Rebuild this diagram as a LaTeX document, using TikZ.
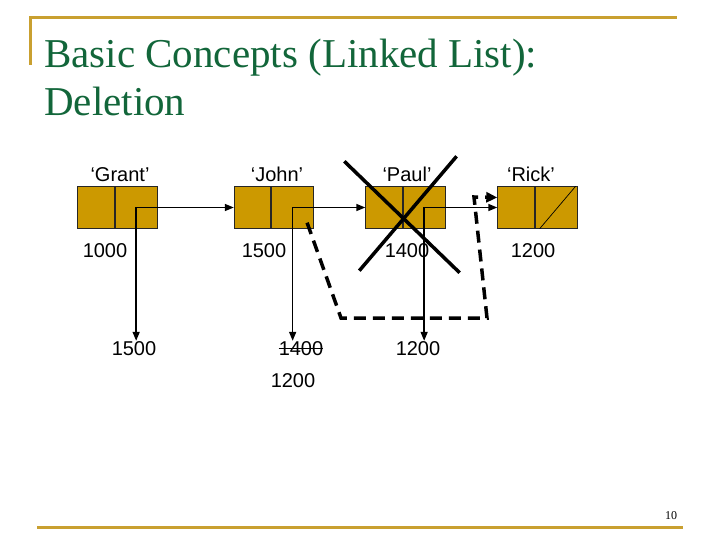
\documentclass[tikz,border=0pt]{standalone}
\usepackage{fontspec}
\setmainfont{Liberation Serif}
\setsansfont{Liberation Sans}
\usepackage{xcolor}
\definecolor{slidegreen}{RGB}{18, 102, 58}
\definecolor{slidegold}{RGB}{201, 160, 48}
\definecolor{boxgold}{RGB}{204, 153,  0}
\usepackage{tikz}
\usetikzlibrary{
  arrows.meta, positioning, calc
}
\tikzset{
  datapart/.style={draw=black!85, fill=boxgold, line width=0.9pt,
    inner sep=0pt, minimum width=36.5pt, minimum height=41.5pt},
  linkpart/.style={draw=black!85, fill=boxgold, line width=0.9pt,
    inner sep=0pt, minimum width=42pt, minimum height=41.5pt},
  titletext/.style={anchor=base west, inner sep=0pt, text=slidegreen,
    font=\fontsize{41}{48}\selectfont},
  namelabel/.style={anchor=base, inner sep=0pt,
    font=\sffamily\fontsize{20}{24}\selectfont},
  addrlabel/.style={anchor=base, inner sep=0pt,
    font=\sffamily\fontsize{20}{24}\selectfont},
  ptrarrow/.style={-{Triangle[length=9pt, width=7pt]}, line width=1.5pt},
  relinkarrow/.style={-{Triangle[length=11pt, width=10pt]}, line width=3.5pt,
    dash pattern=on 12pt off 7pt},
  crossline/.style={line width=3.5pt},
  slideline/.style={draw=slidegold, line width=3pt}
}

\begin{document}
\begin{tikzpicture}[x=1pt, y=-1pt]

  \useasboundingbox (0,0) rectangle (720,540);

  \draw[slideline] (30,65) -- (30,18) -- (677,18);
  \draw[slideline] (37,527) -- (683,527);

  \node[titletext] (titleA) at (44,68) {Basic Concepts (Linked List):};
  \node[titletext] (titleB) at (44,116) {Deletion};

  \node[datapart] (grantD) at (96,207.5) {};
  \node[linkpart, right=0pt of grantD] (grantL) {};
  \node[datapart] (johnD) at (252.5,207.5) {};
  \node[linkpart, right=0pt of johnD] (johnL) {};
  \node[datapart] (paulD) at (384,207.5) {};
  \node[linkpart, right=0pt of paulD] (paulL) {};
  \node[datapart] (rickD) at (516,207.5) {};
  \node[linkpart, right=0pt of rickD] (rickL) {};

  \node[namelabel] (grantName) at (120,182) {‘Grant’};
  \node[namelabel] (johnName)  at (277,182) {‘John’};
  \node[namelabel] (paulName)  at (407,182) {‘Paul’};
  \node[namelabel] (rickName)  at (531,182) {‘Rick’};

  \node[addrlabel] (grantAddr) at (105,257) {1000};
  \node[addrlabel] (johnAddr)  at (264,257) {1500};
  \node[addrlabel] (paulAddr)  at (407,257) {1400};
  \node[addrlabel] (rickAddr)  at (533,257) {1200};

  \node[addrlabel] (grantNext) at (134,355) {1500};
  \node[addrlabel] (johnNext)  at (301,355) {1400};
  \node[addrlabel] (johnNew)   at (293,387) {1200};
  \node[addrlabel] (paulNext)  at (418,355) {1200};
  \draw[line width=0.9pt] ([yshift=6.5pt]johnNext.base west)
    -- ([yshift=6.5pt]johnNext.base east);

  \draw[ptrarrow] (grantL.center) -- (johnD.west);
  \draw[ptrarrow] (johnL.center) -- (paulD.west);
  \draw[ptrarrow] (paulL.center) -- (rickD.west);

  \draw[ptrarrow] (grantL.center) -- (grantL.center |- grantNext.north);
  \draw[ptrarrow] (johnL.center) -- (johnL.center |- johnNext.north);
  \draw[ptrarrow] (paulL.center) -- (paulL.center |- paulNext.north);

  \draw[line width=0.7pt] ($(rickL.south west)+(5,0)$)
    -- ($(rickL.north east)+(-2,0)$);

  \coordinate (bendA) at (341,318);
  \coordinate (bendB) at (487,318);
  \coordinate (bendC) at (474,197);
  \draw[relinkarrow] ($(johnL.south east)+(-7,-6)$) -- (bendA) -- (bendB)
    -- (bendC) -- ([yshift=10pt]rickD.west);

  \draw[crossline] ($(paulD.north west)+(-21,-25)$)
    -- ($(paulL.south east)+(14,44)$);
  \draw[crossline] ($(paulL.north east)+(11,-30)$)
    -- ($(paulD.south west)+(-6,42)$);

  \node[font=\fontsize{12}{14}\selectfont] (pageNum) at (671,516) {10};

\end{tikzpicture}
\end{document}
